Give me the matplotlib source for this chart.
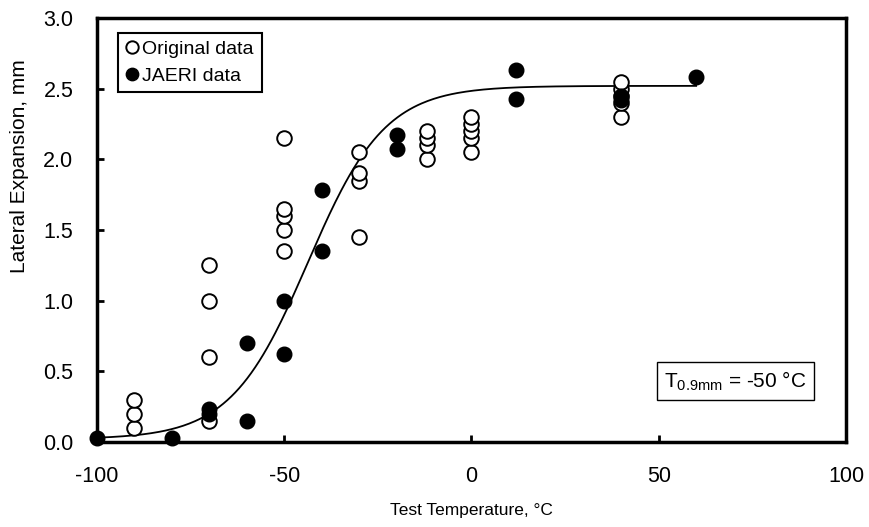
import numpy as np
import matplotlib
matplotlib.use('Agg')
import matplotlib.pyplot as plt

plt.rcParams['font.family'] = ['Liberation Sans', 'DejaVu Sans']
plt.rcParams['mathtext.fontset'] = 'custom'
plt.rcParams['mathtext.rm'] = 'Liberation Sans'
plt.rcParams['axes.unicode_minus'] = False

# Original data (open circles)
orig_T = [-90, -90, -90,
          -70, -70, -70, -70,
          -50, -50, -50, -50, -50,
          -30, -30, -30, -30,
          -12, -12, -12, -12,
          0, 0, 0, 0, 0,
          40, 40, 40, 40, 40]
orig_LE = [0.10, 0.20, 0.30,
           0.15, 0.60, 1.00, 1.25,
           1.35, 1.50, 1.60, 1.65, 2.15,
           1.45, 1.85, 1.90, 2.05,
           2.00, 2.10, 2.15, 2.20,
           2.05, 2.15, 2.20, 2.25, 2.30,
           2.30, 2.40, 2.45, 2.50, 2.55]

# JAERI data (filled circles)
jaeri_T = [-100, -80, -70, -70, -60, -60, -50, -50, -40, -40,
           -20, -20, 12, 12, 40, 40, 60]
jaeri_LE = [0.03, 0.03, 0.20, 0.23, 0.15, 0.70, 0.62, 1.00, 1.35, 1.78,
            2.07, 2.17, 2.43, 2.63, 2.42, 2.45, 2.58]

# tanh fit: LE = A + B*tanh((T - T0)/C)
A, B, T0, C = 1.27, 1.25, -43.7, 20.6
T_fit = np.linspace(-100, 60, 300)
LE_fit = A + B * np.tanh((T_fit - T0) / C)

fig = plt.figure(figsize=(8.69, 5.27), dpi=100)
ax = fig.add_axes([0.1116, 0.1613, 0.8619, 0.8045])

ax.plot(T_fit, LE_fit, 'k-', lw=1.3, zorder=2)
ax.plot(orig_T, orig_LE, 'o', ms=10.5, mfc='white', mec='black', mew=1.4,
        ls='none', label='Original data', zorder=3)
ax.plot(jaeri_T, jaeri_LE, 'o', ms=10.5, mfc='black', mec='black',
        ls='none', label='JAERI data', zorder=4, clip_on=False)

ax.set_xlim(-100, 100)
ax.set_ylim(0, 3.0)
ax.set_xticks([-100, -50, 0, 50, 100])
ax.set_yticks(np.arange(0, 3.01, 0.5))
ax.yaxis.set_major_formatter(matplotlib.ticker.FormatStrFormatter('%.1f'))

for s in ax.spines.values():
    s.set_linewidth(2.5)
ax.tick_params(direction='in', length=5, width=2, labelsize=15.5, pad=17)
ax.tick_params(axis='x', top=False)
ax.tick_params(axis='y', right=False)

ax.set_xlabel('Test Temperature, °C', fontsize=12.5)
ax.set_ylabel('Lateral Expansion, mm', fontsize=15)
ax.xaxis.set_label_coords(0.5, -0.145)
ax.yaxis.set_label_coords(-0.091, 0.65)

leg = ax.legend(loc='upper left', bbox_to_anchor=(0.028, 0.965), borderaxespad=0,
                fontsize=14, handlelength=0.6, handletextpad=0.25,
                markerscale=0.85, fancybox=False, framealpha=1,
                edgecolor='black', borderpad=0.4, labelspacing=0.45)
leg.get_frame().set_linewidth(1.5)

ax.text(0.852, 0.144, r'T$_{\mathrm{0.9mm}}$ = -50 °C', transform=ax.transAxes,
        ha='center', va='center', fontsize=15,
        bbox=dict(boxstyle='square,pad=0.35', fc='white', ec='black', lw=1.0))

fig.savefig('out.png', dpi=100)
